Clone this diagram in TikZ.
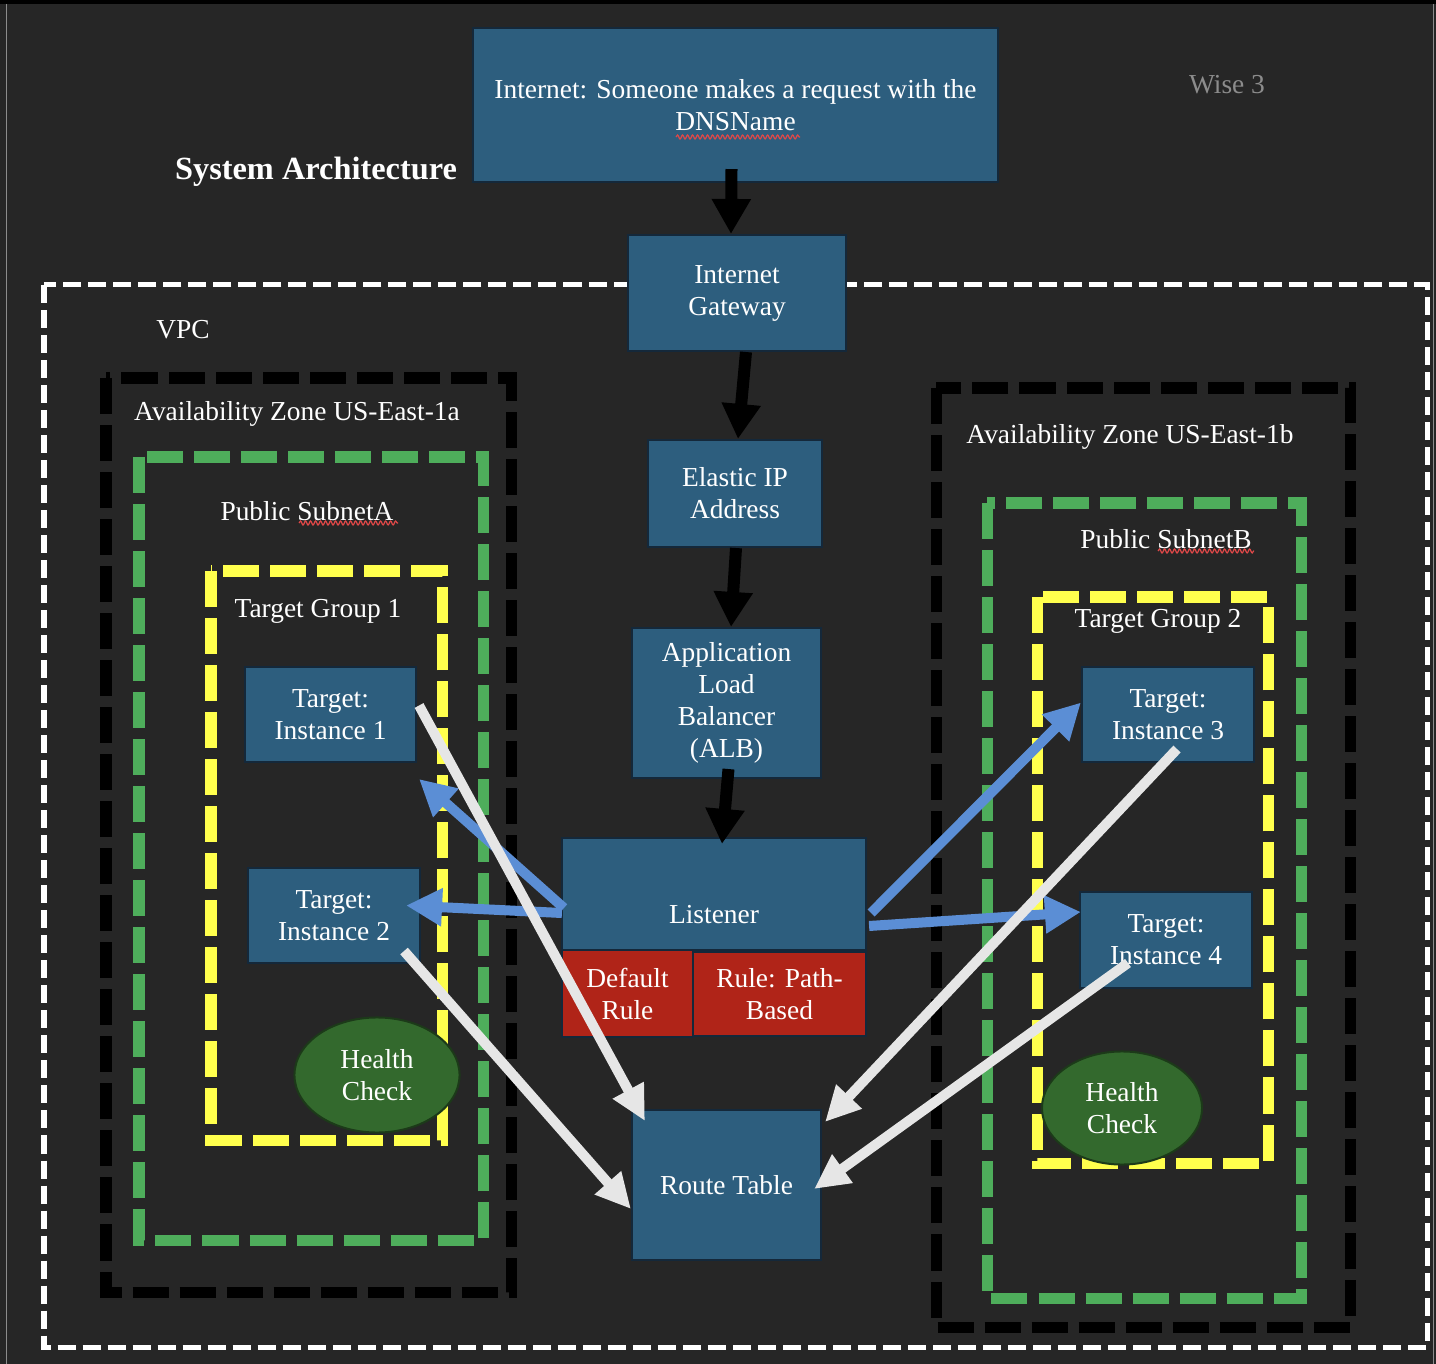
\documentclass[tikz,border=0pt]{standalone}
\usepackage{fontspec}
\setmainfont{Liberation Serif}
\usetikzlibrary{arrows.meta,calc,shapes.geometric,decorations.pathmorphing}

\definecolor{bgdark}{HTML}{262626}
\definecolor{boxblue}{HTML}{2D5E7E}
\definecolor{boxedge}{HTML}{14283A}
\definecolor{rulered}{HTML}{B02418}
\definecolor{hcgreen}{HTML}{33692D}
\definecolor{hcedge}{HTML}{1C3A19}
\definecolor{zonegreen}{HTML}{4EAD5B}
\definecolor{tgyellow}{HTML}{FFFF4D}
\definecolor{arrowblue}{HTML}{5B8ED5}
\definecolor{arrowwhite}{HTML}{E6E6E6}
\definecolor{wisegray}{HTML}{8C8C8C}
\definecolor{spellred}{HTML}{E04848}

\tikzset{
	lbl/.style={text=white, font=\fontsize{7.8}{9.1}\selectfont, align=center, inner sep=0},
	awsbox/.style={lbl, rectangle, fill=boxblue, draw=boxedge, line width=0.02cm},
	rulebox/.style={awsbox, fill=rulered},
	checknode/.style={lbl, ellipse, fill=hcgreen, draw=hcedge, line width=0.02cm},
	vpcline/.style={white, line width=0.05cm, dash pattern=on 0.18cm off 0.07cm},
	zonebox/.style={line width=0.11cm, dash pattern=on 0.36cm off 0.11cm},
	flowblack/.style={black, line width=0.12cm, -{Triangle[length=0.35cm,width=0.37cm]}},
	flowblue/.style={arrowblue, line width=0.1cm, -{Triangle[length=0.36cm,width=0.36cm]}},
	flowwhite/.style={arrowwhite, line width=0.1cm, -{Triangle[length=0.35cm,width=0.33cm]}},
	spellmark/.style={spellred, line width=0.012cm, decorate, decoration={snake, amplitude=0.02cm, segment length=0.05cm}}
}

\begin{document}
\begin{tikzpicture}[x=0.01cm, y=-0.01cm]
	\useasboundingbox (0,0) rectangle (1436,1364);
	\fill[bgdark] (0,0) rectangle (1436,1364);
	\fill[black] (0,0) rectangle (1436,4);
	\draw[wisegray, line width=0.01cm] (6,4) -- (6,1364);
	\draw[wisegray, line width=0.01cm] (1433,4) -- (1433,1364);

	\draw[vpcline] (44,285) rectangle (1427,1347);
	\draw[zonebox, black] (106,378) rectangle (511,1292);
	\draw[zonebox, black] (936,388) rectangle (1350,1327);
	\draw[zonebox, zonegreen] (139,457) rectangle (483,1240);
	\draw[zonebox, zonegreen] (987,503) rectangle (1301,1298);
	\draw[zonebox, tgyellow] (211,571) rectangle (442,1140);
	\draw[zonebox, tgyellow] (1037,597) rectangle (1268,1163);

	\node[lbl, font=\fontsize{9.2}{11}\selectfont\bfseries] (title) at (316,172) {System Architecture};
	\node[lbl, text=wisegray] (wise) at (1227,85) {Wise 3};
	\node[lbl] (vpc) at (183,330) {VPC};
	\node[lbl] (aza) at (297,414) {Availability Zone US-East-1a};
	\node[lbl] (azb) at (1130,437) {Availability Zone US-East-1b};
	\node[lbl] (suba) at (307,511) {Public SubnetA};
	\node[lbl] (subb) at (1166,539) {Public SubnetB};
	\node[lbl] (tga) at (318,611) {Target Group 1};
	\node[lbl] (tgb) at (1158,621) {Target Group 2};

	\node[awsbox, minimum width=5.25cm, minimum height=1.54cm] (inet) at (735.5,105) {Internet: Someone makes a request with the\\DNSName};
	\node[awsbox, minimum width=2.18cm, minimum height=1.16cm] (igw) at (737,293) {Internet\\Gateway};
	\node[awsbox, minimum width=1.74cm, minimum height=1.07cm] (eip) at (735,493.5) {Elastic IP\\Address};
	\node[awsbox, minimum width=1.89cm, minimum height=1.5cm] (alb) at (726.5,703) {Application\\Load\\Balancer\\(ALB)};
	\node[awsbox, minimum width=3.04cm, minimum height=1.12cm] (lsn) at (714,894) {};
	\node[lbl] (lsntxt) at ($(lsn.center)+(0,21)$) {Listener};
	\node[rulebox, minimum width=1.31cm, minimum height=0.87cm] (rdef) at (627.5,993.5) {Default\\Rule};
	\node[rulebox, minimum width=1.73cm, minimum height=0.84cm] (rpath) at (779.5,994) {Rule: Path-\\Based};
	\node[awsbox, minimum width=1.89cm, minimum height=1.5cm] (rt) at (726.5,1185) {Route Table};

	\node[awsbox, minimum width=1.71cm, minimum height=0.95cm] (ia) at (330.5,714.5) {Target:\\Instance 1};
	\node[awsbox, minimum width=1.72cm, minimum height=0.95cm] (ib) at (334,915.5) {Target:\\Instance 2};
	\node[awsbox, minimum width=1.72cm, minimum height=0.95cm] (ic) at (1168,714.5) {Target:\\Instance 3};
	\node[awsbox, minimum width=1.72cm, minimum height=0.96cm] (id) at (1166,940) {Target:\\Instance 4};
	\node[checknode, minimum width=1.65cm, minimum height=1.15cm] (hca) at (377,1075) {Health\\Check};
	\node[checknode, minimum width=1.6cm, minimum height=1.13cm] (hcb) at (1122,1108) {Health\\Check};

	\draw[spellmark] (676,137) -- (800,137);
	\draw[spellmark] (299,523) -- (398,523);
	\draw[spellmark] (1158,551) -- (1254,551);

	\draw[flowblack] ($(inet.south)+(-4,-14)$) -- ($(igw.north)+(-6,0)$);
	\draw[flowblack] ($(igw.south)+(9,0)$) -- ($(eip.north)+(3,0)$);
	\draw[flowblack] ($(eip.south)+(1,0)$) -- ($(alb.north)+(4.5,0)$);
	\draw[flowblack] ($(alb.south)+(2,-10)$) -- ($(lsn.north)+(8,7)$);

	\draw[flowblue] ($(lsn.west)+(3,14)$) -- ($(ia.south east)+(2,16)$);
	\draw[flowblue] ($(lsn.west)+(1,19)$) -- ($(ib.east)+(-15,-10)$);
	\draw[flowblue] ($(lsn.east)+(4,19)$) -- ($(ic.west)+(0,-12)$);
	\draw[flowblue] ($(lsn.east)+(2,32)$) -- ($(id.west)+(2,-28)$);

	\draw[flowwhite] ($(ia.east)+(2,-9)$) -- ($(rt.north west)+(14,12)$);
	\draw[flowwhite] ($(ib.south east)+(-17,-13)$) -- ($(rt.west)+(0,24)$);
	\draw[flowwhite] ($(ic.south)+(9,-14)$) -- ($(rt.north east)+(3,13)$);
	\draw[flowwhite] ($(id.center)+(-38,23)$) -- ($(rt.east)+(-8,4)$);
\end{tikzpicture}
\end{document}
